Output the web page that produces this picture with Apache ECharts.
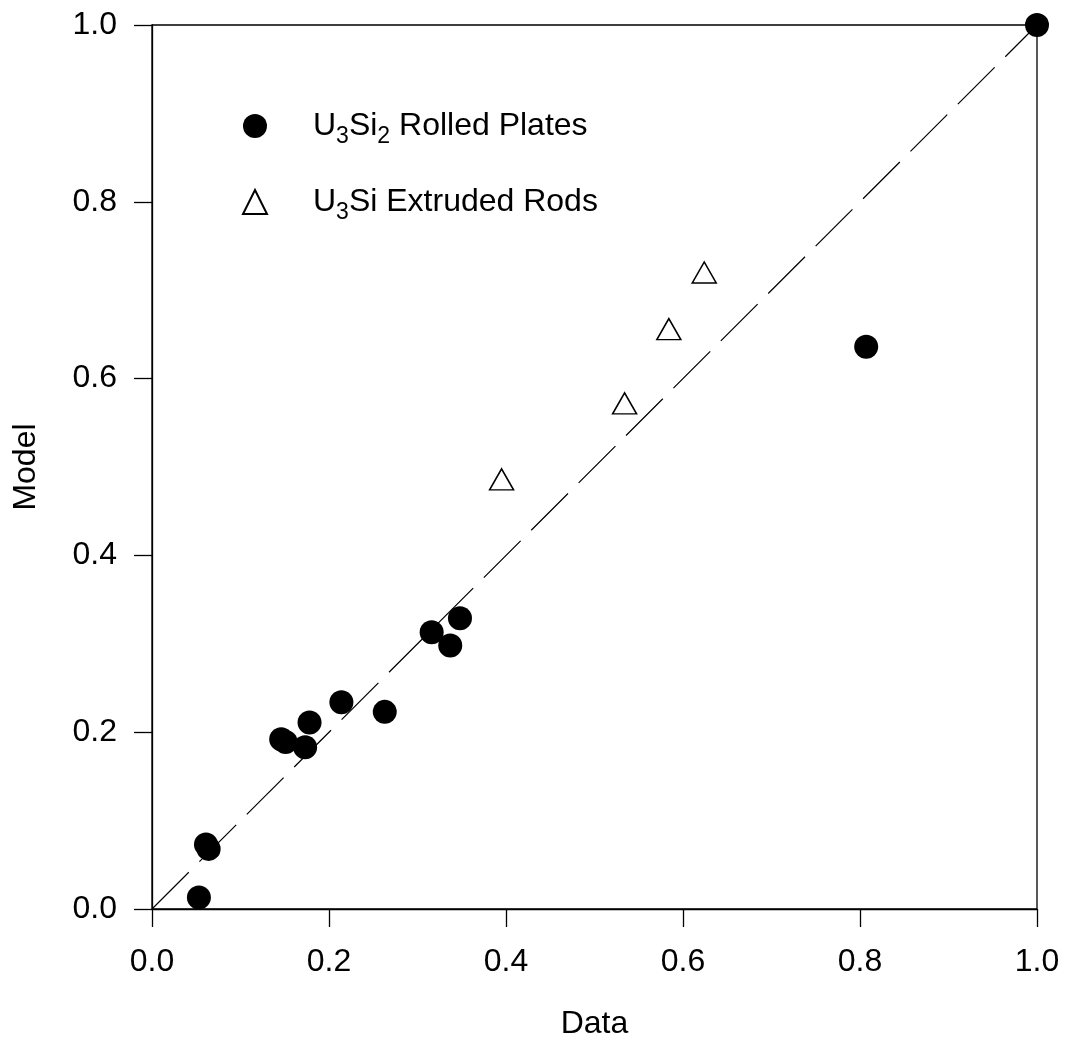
<!DOCTYPE html>
<html>
<head>
<meta charset="utf-8">
<script src="https://cdn.jsdelivr.net/npm/echarts@6/dist/echarts.min.js"></script>
<style>
html,body{margin:0;padding:0;background:#fff;}
#chart{width:1067px;height:1045px;}
</style>
</head>
<body>
<div id="chart"></div>
<script>
// Data
const platesX = [0.053, 0.061, 0.064, 0.146, 0.151, 0.173, 0.178, 0.214, 0.263, 0.316, 0.337, 0.348, 0.807, 1.0];
const platesY = [0.013, 0.073, 0.068, 0.192, 0.189, 0.183, 0.211, 0.234, 0.223, 0.313, 0.298, 0.329, 0.636, 1.0];
const rodsX = [0.395, 0.534, 0.584, 0.624];
const rodsY = [0.486, 0.572, 0.656, 0.720];
const lineX = [0, 1];
const lineY = [0, 1];
const tickValues = [0.0, 0.2, 0.4, 0.6, 0.8, 1.0];
const platesName = 'U3Si2 Rolled Plates';
const rodsName = 'U3Si Extruded Rods';
const xName = 'Data';
const yName = 'Model';

const zip = (a, b) => a.map((v, i) => [v, b[i]]);
const FONT = '"Liberation Sans", Arial, sans-serif';

const chart = echarts.init(document.getElementById('chart'));
const axisCommon = {
  type: 'value', min: 0, max: 1, interval: 0.2,
  axisLine: {show: true, lineStyle: {color: '#000', width: 1.3}},
  axisTick: {show: true, inside: false, length: 18, lineStyle: {color: '#000', width: 1.3}},
  splitLine: {show: false},
  axisLabel: {color: '#000', fontSize: 32, fontFamily: FONT, formatter: v => v.toFixed(1)},
  nameLocation: 'middle',
  nameTextStyle: {color: '#000', fontSize: 32, fontFamily: FONT}
};
chart.setOption({
  animation: false,
  backgroundColor: '#fff',
  grid: {left: 152, right: 30, top: 25, bottom: 136, show: true, borderColor: '#000', borderWidth: 1.3, backgroundColor: 'transparent'},
  xAxis: Object.assign({}, axisCommon, {name: xName, nameGap: 99, axisLabel: Object.assign({}, axisCommon.axisLabel, {margin: 37})}),
  yAxis: Object.assign({}, axisCommon, {name: yName, nameGap: 110, nameRotate: 90, axisLabel: Object.assign({}, axisCommon.axisLabel, {margin: 35})}),
  legend: {
    orient: 'vertical', left: 237, top: 105, itemWidth: 24, itemHeight: 24, itemGap: 38,
    data: [platesName, rodsName],
    formatter: function (name) {
      if (name === platesName) return '{b|U}{s|3}{b|Si}{s|2}{b| Rolled Plates}';
      return '{b|U}{s|3}{b|Si Extruded Rods}';
    },
    textStyle: {
      color: '#000', fontFamily: FONT, fontSize: 32, padding: [0, 0, 0, 41],
      rich: {
        b: {fontSize: 32, fontFamily: FONT, color: '#000', lineHeight: 44, verticalAlign: 'middle'},
        s: {fontSize: 23, fontFamily: FONT, color: '#000', lineHeight: 23, verticalAlign: 'bottom'}
      }
    }
  },
  series: [
    {
      type: 'line', data: zip(lineX, lineY), symbol: 'none', silent: true,
      lineStyle: {color: '#000', width: 1.2, type: [52, 15]}, z: 1
    },
    {
      name: platesName, type: 'scatter', data: zip(platesX, platesY), symbol: 'circle', symbolSize: 24,
      itemStyle: {color: '#000', opacity: 1}, z: 3
    },
    {
      name: rodsName, type: 'scatter', data: zip(rodsX, rodsY), symbol: 'triangle', symbolSize: [24, 21],
      itemStyle: {color: '#fff', borderColor: '#000', borderWidth: 1.5, opacity: 1}, z: 3
    }
  ]
});
</script>
</body>
</html>
